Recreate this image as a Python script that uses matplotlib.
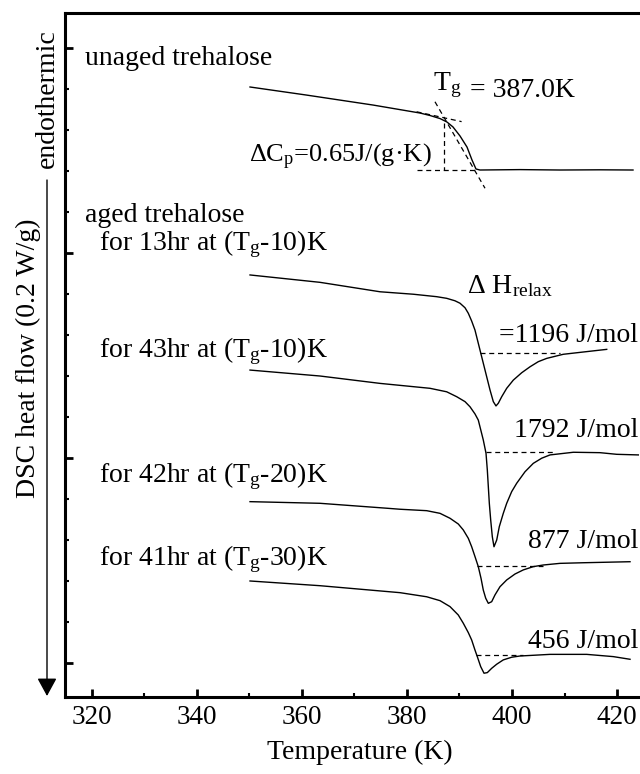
import matplotlib
matplotlib.use('Agg')
from matplotlib import pyplot as plt
from matplotlib.ticker import MultipleLocator

plt.rcParams['font.family'] = ['Liberation Serif', 'DejaVu Serif']
plt.rcParams['mathtext.fontset'] = 'custom'
plt.rcParams['mathtext.rm'] = 'Liberation Serif'
plt.rcParams['mathtext.it'] = 'Liberation Serif:italic'

# DSC traces, temperature (K) vs heat flow (1 unit = one major division, curves offset)
T_unaged = [350.10, 360.76, 373.52, 382.48, 384.38, 386.29, 387.62, 388.76, 390.10,
            391.43, 392.38, 393.14, 393.90, 401.52, 409.14, 416.76, 423.05]
hf_unaged = [2.810, 2.771, 2.722, 2.683, 2.671, 2.656, 2.639, 2.615, 2.571,
             2.517, 2.454, 2.410, 2.405, 2.407, 2.405, 2.406, 2.405]

T_13hr = [350.10, 363.43, 374.86, 381.20, 385.66, 387.56, 389.14, 390.10, 391.05, 391.68,
          392.32, 392.95, 393.90, 394.86, 395.81, 396.44, 396.95, 397.39, 398.04, 398.99,
          400.25, 401.85, 403.43, 405.01, 406.61, 409.77, 414.23, 418.04]
hf_13hr = [1.893, 1.857, 1.811, 1.799, 1.787, 1.779, 1.767, 1.755, 1.733, 1.706,
           1.668, 1.624, 1.527, 1.429, 1.332, 1.275, 1.254, 1.267, 1.299, 1.340,
           1.380, 1.416, 1.445, 1.470, 1.486, 1.506, 1.519, 1.530]

T_43hr = [350.10, 363.43, 374.86, 384.38, 387.56, 389.47, 391.05, 392.00, 392.95, 393.58,
          394.53, 395.05, 395.30, 395.49, 395.68, 395.94, 396.25, 396.57, 397.09, 397.58,
          398.34, 398.99, 399.94, 400.90, 402.48, 404.06, 405.66, 407.24, 411.68, 416.76,
          419.94, 424.06]
hf_43hr = [1.429, 1.400, 1.364, 1.340, 1.323, 1.299, 1.275, 1.250, 1.215, 1.185,
           1.088, 1.023, 0.941, 0.860, 0.779, 0.698, 0.616, 0.567, 0.600, 0.665,
           0.730, 0.779, 0.836, 0.877, 0.933, 0.974, 0.999, 1.015, 1.028, 1.026,
           1.018, 1.015]

T_42hr = [350.10, 363.43, 376.13, 378.67, 383.75, 386.29, 388.19, 389.77, 390.72, 391.68,
          392.32, 392.95, 393.58, 394.10, 394.53, 394.99, 395.49, 396.13, 396.76, 397.71,
          398.99, 400.57, 402.15, 404.06, 405.96, 409.14, 413.58, 422.48]
hf_42hr = [0.787, 0.779, 0.755, 0.750, 0.743, 0.730, 0.706, 0.678, 0.649, 0.608,
           0.567, 0.519, 0.470, 0.413, 0.356, 0.316, 0.291, 0.299, 0.332, 0.372,
           0.405, 0.434, 0.454, 0.470, 0.478, 0.486, 0.489, 0.494]

T_41hr = [350.10, 363.43, 378.67, 383.75, 386.29, 388.19, 389.77, 390.72, 391.68, 392.32,
          392.95, 393.39, 394.04, 394.67, 395.30, 396.13, 397.09, 398.34, 399.94, 401.52,
          407.24, 414.23, 419.30, 422.48]
hf_41hr = [0.400, 0.377, 0.343, 0.323, 0.304, 0.275, 0.234, 0.194, 0.148, 0.112,
           0.063, 0.031, -0.018, -0.050, -0.047, -0.026, -0.006, 0.015, 0.028, 0.034,
           0.042, 0.042, 0.031, 0.018]

aged_T = [T_13hr, T_43hr, T_42hr, T_41hr]
aged_hf = [hf_13hr, hf_43hr, hf_42hr, hf_41hr]
aged_hours = [13, 43, 42, 41]
aged_dT = [10, 10, 20, 30]
dH_relax = [1196, 1792, 877, 456]

# dashed baselines under the relaxation peaks
base_T0 = [394.0, 395.05, 393.39, 393.2]
base_T1 = [409.14, 407.87, 405.96, 402.15]
base_hf = [1.511, 1.028, 0.473, 0.038]

# Tg construction on the unaged trace
Tg = 387.0
tan_upper_T = [381.83, 390.40]
tan_upper_hf = [2.689, 2.641]
tan_steep_T = [385.33, 394.86]
tan_steep_hf = [2.738, 2.316]
cp_step_hf = [2.634, 2.405]
cp_base_T = [381.83, 392.95]

fig = plt.figure(figsize=(6.4, 7.74), dpi=100)
ax = fig.add_axes([65/640, 1 - 697/774, 1 - 65/640, (697 - 13)/774])

ax.plot(T_unaged, hf_unaged, color='black', lw=1.0)
for T, hf in zip(aged_T, aged_hf):
    ax.plot(T, hf, color='black', lw=1.0)

dash = (0, (4, 3))
for t0, t1, h in zip(base_T0, base_T1, base_hf):
    ax.plot([t0, t1], [h, h], color='black', lw=0.9, ls=dash)

ax.plot(tan_upper_T, tan_upper_hf, color='black', lw=0.9, ls=dash)
ax.plot(tan_steep_T, tan_steep_hf, color='black', lw=0.9, ls=dash)
ax.plot([Tg, Tg], cp_step_hf, color='black', lw=0.9, ls=dash)
ax.plot(cp_base_T, [cp_step_hf[1], cp_step_hf[1]], color='black', lw=0.9, ls=dash)

fs = 20
ax.text(318.67, 2.917, 'unaged trehalose', fontsize=fs)
ax.text(318.67, 2.151, 'aged trehalose', fontsize=fs)
label_y = [2.015, 1.493, 0.883, 0.478]
for h, d, y in zip(aged_hours, aged_dT, label_y):
    ax.text(321.33, y, 'for %dhr at ($\\mathrm{T_g}$-%d)K' % (h, d), fontsize=fs)

ax.text(384.95, 2.795, '$\\mathrm{T_g}$', fontsize=fs)
ax.text(392.0, 2.761, '= %.1fK' % Tg, fontsize=fs)
ax.text(349.9, 2.444, 'Δ$\\mathrm{C_p}$=0.65J/(g·K)', fontsize=19)

ax.text(391.43, 1.805, 'Δ $\\mathrm{H_{relax}}$', fontsize=fs)
dh_y = [1.566, 1.102, 0.561, 0.073]
for i, (v, y) in enumerate(zip(dH_relax, dh_y)):
    s = '=%d J/mol' % v if i == 0 else '%d J/mol' % v
    ax.text(424.0, y, s, fontsize=fs, ha='right', clip_on=False)

ax.set_xlim(314.86, 424.38)
ax.set_ylim(-0.166, 3.171)
ax.xaxis.set_major_locator(MultipleLocator(20))
ax.xaxis.set_minor_locator(MultipleLocator(10))
ax.yaxis.set_major_locator(MultipleLocator(1))
ax.yaxis.set_minor_locator(MultipleLocator(0.2))
ax.tick_params(which='both', direction='in', top=False, right=False)
ax.tick_params(which='major', length=6, width=2)
ax.tick_params(which='minor', length=3, width=1.5)
ax.tick_params(axis='x', labelsize=19.5, pad=6)
ax.tick_params(axis='y', labelleft=False)
for side in ['left', 'bottom', 'top']:
    ax.spines[side].set_linewidth(2.2)
ax.spines['right'].set_visible(False)

fig.text(360/640, 1 - 752/774, 'Temperature (K)', fontsize=fs, ha='center', va='center')
fig.text(28/640, 1 - 358/774, 'DSC heat flow (0.2 W/g)', fontsize=fs,
         rotation=90, ha='center', va='center')
fig.text(47/640, 1 - 99/774, 'endothermic', fontsize=fs,
         rotation=90, ha='center', va='center')
fig.patches.append(matplotlib.patches.FancyArrowPatch(
    (47/640, 1 - 180/774), (47/640, 1 - 696/774), transform=fig.transFigure,
    arrowstyle='-|>,head_length=0.55,head_width=0.3', mutation_scale=20,
    color='black', lw=1.0, shrinkA=0, shrinkB=0))

fig.savefig('out.png', dpi=100)
